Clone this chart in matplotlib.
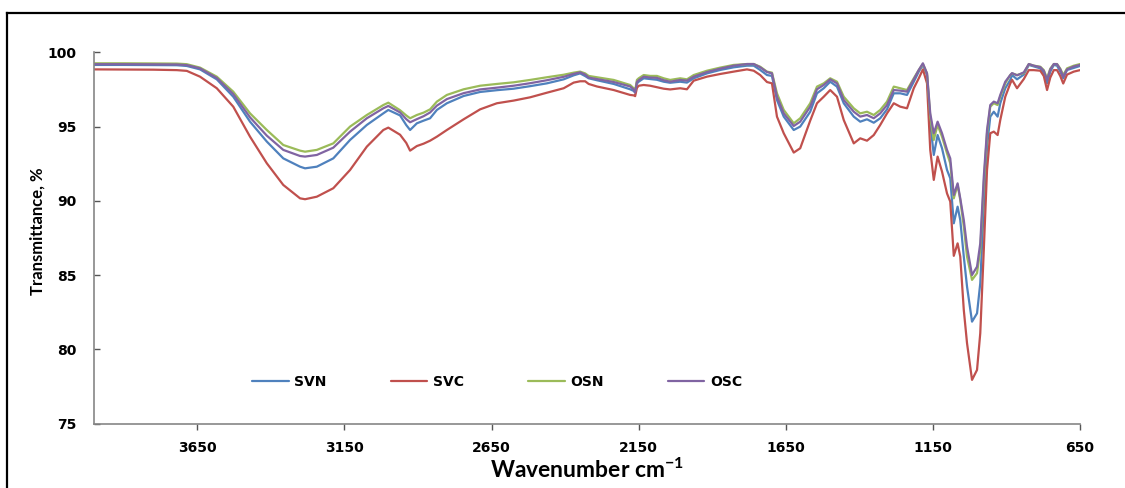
import matplotlib
matplotlib.use("Agg")
import matplotlib.pyplot as plt
from matplotlib.lines import Line2D

plt.rcParams["mathtext.fontset"] = "custom"
plt.rcParams["mathtext.rm"] = "Lato:bold"
plt.rcParams["mathtext.default"] = "rm"

# FTIR spectra: wavenumber (cm-1) and transmittance (%) for four samples
wavenumber = [
    4000, 3900, 3800, 3720, 3686, 3641, 3584, 3528, 3471, 3414, 3358, 3301, 3284, 3244, 3188, 3131, 3074, 3018, 3001, 2961,
    2940, 2927, 2904, 2881, 2859, 2836, 2802, 2745, 2689, 2632, 2575, 2519, 2462, 2405, 2371, 2349, 2332, 2320, 2292, 2235,
    2179, 2167, 2162, 2156, 2150, 2133, 2111, 2088, 2065, 2043,
    2009, 1986, 1963, 1918, 1873, 1827, 1782, 1759, 1737, 1714, 1697, 1680, 1657, 1623, 1601, 1567, 1544, 1521, 1499, 1476,
    1453, 1419, 1397, 1374, 1351, 1329, 1306, 1283,
    1261, 1238, 1215, 1198, 1184, 1170, 1159, 1147, 1134, 1119, 1102, 1091, 1079, 1066, 1057, 1045, 1034, 1017, 1000, 989,
    977, 966, 955, 943, 930, 921, 904, 887,
    881, 864, 841, 824, 807, 785, 773, 762, 751, 739, 728, 717, 707, 694, 671, 650,
]

svn = [
    99.15, 99.15, 99.14, 99.13, 99.08, 98.85, 98.18, 97.01, 95.33, 93.99, 92.86, 92.30, 92.19, 92.30, 92.86, 94.10, 95.11, 95.89, 96.12, 95.75,
    95.10, 94.77, 95.22, 95.40, 95.56, 96.12, 96.57, 97.06, 97.33, 97.45, 97.55, 97.72, 97.91, 98.18, 98.45, 98.58, 98.40, 98.25, 98.12, 97.87,
    97.51, 97.40, 97.28, 97.90, 98.02, 98.25, 98.20, 98.15, 98.02, 97.95,
    98.02, 97.96, 98.25, 98.58, 98.81, 98.99, 99.10, 99.10, 98.81, 98.47, 98.41, 96.79, 95.67, 94.77, 95.00, 96.00, 97.24, 97.58, 98.02, 97.69,
    96.57, 95.67, 95.33, 95.49, 95.26, 95.56, 96.16, 97.24,
    97.24, 97.13, 98.02, 98.70, 99.15, 98.47, 95.22, 93.09, 94.43, 93.54, 92.08, 91.52, 88.49, 89.61, 88.71, 86.25, 84.23, 81.87, 82.43, 84.45,
    89.61, 93.65, 95.67, 96.00, 95.67, 96.57, 97.58, 98.14,
    98.47, 98.18, 98.50, 99.15, 99.05, 98.92, 98.60, 97.91, 98.70, 99.15, 99.10, 98.70, 98.25, 98.81, 98.95, 99.08,
]

svc = [
    98.85, 98.84, 98.83, 98.80, 98.75, 98.36, 97.58, 96.34, 94.32, 92.53, 91.07, 90.17, 90.11, 90.28, 90.85, 92.08, 93.65, 94.77, 94.93, 94.45,
    93.90, 93.38, 93.69, 93.85, 94.05, 94.32, 94.77, 95.49, 96.16, 96.57, 96.75, 96.97, 97.28, 97.58, 97.96, 98.05, 98.05, 97.87, 97.70, 97.46,
    97.13, 97.10, 97.05, 97.60, 97.75, 97.80, 97.75, 97.65, 97.55, 97.50,
    97.58, 97.51, 98.09, 98.36, 98.54, 98.70, 98.85, 98.76, 98.47, 98.00, 97.91, 95.67, 94.55, 93.25, 93.54, 95.40, 96.57, 97.01, 97.46, 97.01,
    95.44, 93.87, 94.21, 94.05, 94.43, 95.11, 95.89, 96.57,
    96.34, 96.23, 97.58, 98.25, 98.85, 97.91, 93.43, 91.41, 92.98, 91.97, 90.50, 89.95, 86.30, 87.14, 86.25, 82.66, 80.42, 77.95, 78.62, 81.09,
    86.70, 92.08, 94.55, 94.66, 94.43, 95.44, 97.01, 97.90,
    98.15, 97.58, 98.20, 98.80, 98.80, 98.76, 98.40, 97.46, 98.30, 98.80, 98.80, 98.40, 97.90, 98.50, 98.70, 98.80,
]

osn = [
    99.26, 99.26, 99.25, 99.24, 99.20, 98.97, 98.36, 97.35, 95.89, 94.77, 93.76, 93.38, 93.31, 93.43, 93.87, 95.00, 95.78, 96.45, 96.61, 96.10,
    95.75, 95.56, 95.78, 95.94, 96.16, 96.68, 97.13, 97.51, 97.75, 97.87, 97.98, 98.14, 98.32, 98.49, 98.63, 98.70, 98.58, 98.41, 98.32, 98.14,
    97.80, 97.58, 97.42, 98.14, 98.25, 98.47, 98.41, 98.41, 98.25, 98.14,
    98.25, 98.18, 98.47, 98.76, 98.97, 99.15, 99.21, 99.21, 99.03, 98.70, 98.63, 97.24, 96.12, 95.22, 95.56, 96.57, 97.69, 97.91, 98.25, 98.02,
    97.01, 96.23, 95.89, 96.00, 95.78, 96.12, 96.68, 97.69,
    97.58, 97.46, 98.25, 98.81, 99.21, 98.58, 95.67, 94.10, 95.11, 94.32, 93.20, 92.53, 90.17, 91.07, 90.06, 88.27, 86.25, 84.68, 85.13, 86.70,
    91.18, 94.55, 96.34, 96.57, 96.45, 97.01, 97.91, 98.47,
    98.58, 98.47, 98.60, 99.21, 99.10, 99.03, 98.80, 98.25, 98.90, 99.21, 99.21, 98.90, 98.47, 98.92, 99.10, 99.21,
]

osc = [
    99.20, 99.20, 99.19, 99.18, 99.14, 98.92, 98.27, 97.19, 95.62, 94.39, 93.43, 93.02, 92.98, 93.09, 93.58, 94.66, 95.56, 96.23, 96.39, 95.95,
    95.50, 95.29, 95.50, 95.70, 95.95, 96.41, 96.85, 97.25, 97.50, 97.62, 97.75, 97.92, 98.12, 98.35, 98.55, 98.65, 98.50, 98.30, 98.20, 98.00,
    97.70, 97.50, 97.30, 98.00, 98.12, 98.36, 98.30, 98.28, 98.12, 98.02,
    98.14, 98.09, 98.36, 98.67, 98.90, 99.10, 99.21, 99.21, 98.99, 98.67, 98.58, 97.01, 95.89, 95.04, 95.33, 96.34, 97.51, 97.80, 98.18, 97.91,
    96.79, 96.00, 95.67, 95.78, 95.56, 95.89, 96.45, 97.46,
    97.42, 97.35, 98.18, 98.81, 99.26, 98.58, 95.89, 94.55, 95.33, 94.55, 93.43, 92.86, 90.40, 91.18, 90.17, 88.71, 86.92, 85.01, 85.57, 87.14,
    91.63, 94.77, 96.45, 96.68, 96.57, 97.13, 98.02, 98.47,
    98.60, 98.45, 98.65, 99.21, 99.10, 99.00, 98.75, 98.15, 98.85, 99.21, 99.20, 98.85, 98.36, 98.85, 99.05, 99.15,
]

series_names = ["SVN", "SVC", "OSN", "OSC"]
series_colors = ["#4F81BD", "#C0504D", "#9BBB59", "#8064A2"]
x_ticks = [3650, 3150, 2650, 2150, 1650, 1150, 650]
y_ticks = [75, 80, 85, 90, 95, 100]

W, H = 1125, 488
fig = plt.figure(figsize=(W / 100, H / 100), dpi=100)
fig.patch.set_facecolor("white")

# plot area in pixel terms
left_px, right_px, top_px, bottom_px = 94.4, 1080, 52.3, 423.7
ax = fig.add_axes([left_px / W, 1 - bottom_px / H,
                   (right_px - left_px) / W, (bottom_px - top_px) / H])

for name, color, values in zip(series_names, series_colors, [svn, svc, osn, osc]):
    ax.plot(wavenumber, values, color=color, lw=1.6, label=name,
            solid_joinstyle="round", solid_capstyle="round")

ax.set_xlim(4000, 650)
ax.set_ylim(75, 100)
ax.set_xticks(x_ticks)
ax.set_yticks(y_ticks)
ax.set_xticklabels([str(t) for t in x_ticks], fontsize=10, fontweight="bold",
                   family="DejaVu Sans")
ax.set_yticklabels([str(t) for t in y_ticks], fontsize=10, fontweight="bold",
                   family="DejaVu Sans")

for side in ["top", "right"]:
    ax.spines[side].set_visible(False)
for side in ["left", "bottom"]:
    ax.spines[side].set_color("#868686")
    ax.spines[side].set_linewidth(1.2)

ax.tick_params(axis="x", direction="out", length=4.5, width=1.0, color="#555555", pad=8)
ax.tick_params(axis="y", direction="in", length=4.5, width=1.0, color="#555555", pad=13)

leg = ax.legend(loc="center left", bbox_to_anchor=((252 - left_px) / (right_px - left_px),
                                                     (bottom_px - 382) / (bottom_px - top_px)),
                ncol=4, frameon=False, borderpad=0, borderaxespad=0,
                handlelength=2.65, handletextpad=0.4, columnspacing=4.6,
                prop={"family": "DejaVu Sans", "weight": "bold", "size": 10})
for line in leg.get_lines():
    line.set_linewidth(1.6)

fig.text(38 / W, 1 - 231 / H, "Transmittance, %", rotation=90, ha="center", va="center",
         fontsize=12, family="Lato", fontweight="bold", color="black")
fig.text(587 / W, 1 - 470 / H, r"Wavenumber cm$^{-1}$", ha="center", va="center",
         fontsize=16.5, family="Lato", fontweight="bold", color="black")

# outer frame (left and top edges)
fig.add_artist(Line2D([7 / W, 7 / W], [0, 1 - 12.5 / H], transform=fig.transFigure,
                      color="black", lw=1.6))
fig.add_artist(Line2D([7 / W, 1], [1 - 12.5 / H, 1 - 12.5 / H], transform=fig.transFigure,
                      color="black", lw=1.6))

fig.savefig("out.png", dpi=100, facecolor="white")
